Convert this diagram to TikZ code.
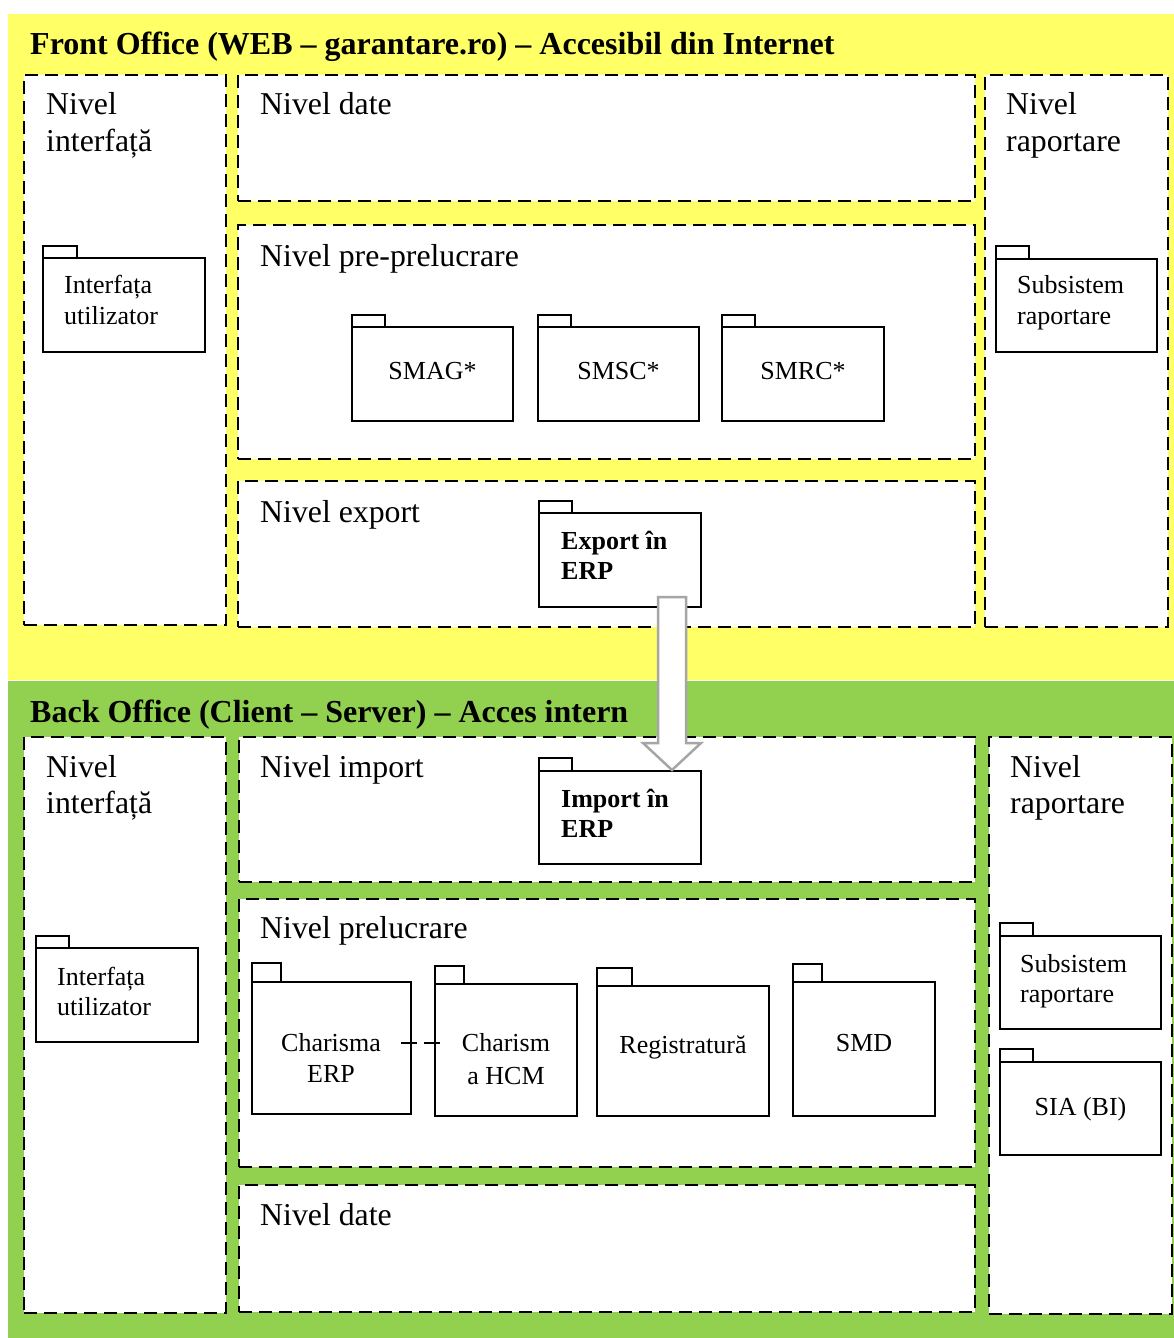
\documentclass[tikz,border=0pt]{standalone}
\usepackage{fontspec}
\setmainfont{Liberation Serif}
\usetikzlibrary{calc}
\definecolor{frontbg}{HTML}{FFFF66}
\definecolor{backbg}{HTML}{92D050}
\definecolor{flowgray}{HTML}{A6A6A6}

\tikzset{
  lvl/.style={draw, line width=2pt, dash pattern=on 13pt off 7pt, fill=white,
    inner sep=0pt, outer sep=0pt},
  pkg/.style={draw, line width=1.8pt, fill=white, inner sep=0pt, outer sep=0pt},
  pkgline/.style={draw, line width=1.8pt, fill=white},
  txt/.style={font=\fontsize{31.8}{37}\selectfont, inner sep=0pt, anchor=base west},
  sm/.style={font=\fontsize{26}{31}\selectfont, inner sep=0pt, anchor=base west},
  smc/.style={font=\fontsize{26}{31}\selectfont, inner sep=0pt, anchor=base},
  smb/.style={font=\bfseries\fontsize{26}{31}\selectfont, inner sep=0pt, anchor=base west},
  ttl/.style={font=\bfseries\fontsize{32}{37}\selectfont, inner sep=0pt, anchor=base west},
  flow/.style={draw=flowgray, line width=2.5pt, fill=white, line join=miter},
  link/.style={draw, line width=1.5pt, dash pattern=on 16pt off 7pt},
}

% level container: name, left, top, right, bottom
\newcommand\lvlbox[5]{\node[lvl, anchor=north west,
  minimum width={(#4-#2)*1pt}, minimum height={(#5-#3)*1pt}] (#1) at (#2,#3) {};}
% UML package: name, left, tab top, body top, right, bottom, tab right
\newcommand\pkgbox[7]{%
  \draw[pkgline] (#2,#3) rectangle (#7,#4);
  \node[pkg, anchor=north west,
    minimum width={(#5-#2)*1pt}, minimum height={(#6-#4)*1pt}] (#1) at (#2,#4) {};}

\begin{document}
\begin{tikzpicture}[x=1pt,y=-1pt]
\useasboundingbox (0,0) rectangle (1174,1338);

% tiers
\fill[frontbg] (8,14) rectangle (1174,680);
\fill[backbg] (8,681) rectangle (1174,1338);

% ---------- Front Office ----------
\node[ttl] (ttlfront) at (30,55) {Front Office (WEB – garantare.ro) – Accesibil din Internet};

\lvlbox{fint}{24}{75}{226}{625}
\lvlbox{fdate}{238}{75}{975}{201}
\lvlbox{fpre}{238}{225}{975}{459}
\lvlbox{fexp}{238}{481}{975}{627}
\lvlbox{frap}{985}{75}{1168}{627}

\node[txt] (fint1) at (46,114) {Nivel};
\node[txt] (fint2) at (46,151) {interfață};
\node[txt] (fdatel) at (260,114) {Nivel date};
\node[txt] (fprel) at (260,266) {Nivel pre-prelucrare};
\node[txt] (fexpl) at (260,522) {Nivel export};
\node[txt] (frap1) at (1006,114) {Nivel};
\node[txt] (frap2) at (1006,151) {raportare};

\pkgbox{fui}{43}{246}{258}{205}{352}{77}
\node[sm] (fui1) at (64,293) {Interfața};
\node[sm] (fui2) at (64,324) {utilizator};

\pkgbox{frs}{996}{246}{259}{1157}{352}{1029}
\node[sm] (frs1) at (1017,293) {Subsistem};
\node[sm] (frs2) at (1017,324) {raportare};

\pkgbox{smag}{352}{315}{327}{513}{421}{385}
\pkgbox{smsc}{538}{315}{327}{699}{421}{571}
\pkgbox{smrc}{722}{315}{327}{884}{421}{755}
\node[smc] (smagl) at (432.5,379) {SMAG*};
\node[smc] (smscl) at (618.5,379) {SMSC*};
\node[smc] (smrcl) at (803,379) {SMRC*};

\pkgbox{exp}{539}{501}{513}{701}{607}{572}
\node[smb] (exp1) at (561,549) {Export în};
\node[smb] (exp2) at (561,579) {ERP};

% ---------- Back Office ----------
\node[ttl] (ttlback) at (30,722) {Back Office (Client – Server) – Acces intern};

\lvlbox{bint}{24}{737}{226}{1313}
\lvlbox{bimp}{239}{737}{975}{882}
\lvlbox{bproc}{239}{899}{975}{1167}
\lvlbox{bdate}{239}{1185}{975}{1312}
\lvlbox{brap}{989}{737}{1172}{1314}

\node[txt] (bint1) at (46,777) {Nivel};
\node[txt] (bint2) at (46,813) {interfață};
\node[txt] (bimpl) at (260,777) {Nivel import};
\node[txt] (bprocl) at (260,938) {Nivel prelucrare};
\node[txt] (bdatel) at (260,1225) {Nivel date};
\node[txt] (brap1) at (1010,777) {Nivel};
\node[txt] (brap2) at (1010,813) {raportare};

\pkgbox{bui}{36}{936}{948}{198}{1042}{69}
\node[sm] (bui1) at (57,985) {Interfața};
\node[sm] (bui2) at (57,1015) {utilizator};

\pkgbox{imp}{539}{758}{771}{701}{864}{572}
\node[smb] (imp1) at (561,807) {Import în};
\node[smb] (imp2) at (561,837) {ERP};

\pkgbox{cerp}{252}{963}{982}{411}{1114}{281}
\node[smc] (cerp1) at (331,1051) {Charisma};
\node[smc] (cerp2) at (331,1082) {ERP};

\pkgbox{chcm}{435}{966}{984}{577}{1116}{464}
\node[smc] (chcm1) at (506,1051) {Charism};
\node[smc] (chcm2) at (506,1084) {a HCM};

\pkgbox{reg}{597}{968}{986}{769}{1116}{632}
\node[smc] (regl) at (683,1053) {Registratură};

\pkgbox{smd}{793}{964}{982}{935}{1116}{822}
\node[smc] (smdl) at (864,1051) {SMD};

\pkgbox{brs}{1000}{923}{936}{1161}{1029}{1033}
\node[sm] (brs1) at (1020,972) {Subsistem};
\node[sm] (brs2) at (1020,1002) {raportare};

\pkgbox{sia}{1000}{1049}{1062}{1161}{1155}{1033}
\node[smc] (sial) at (1080.5,1115) {SIA (BI)};

% dependency between the two Charisma packages
\draw[link] ($(cerp.east)+(-10,-5)$) -- ($(chcm.west)+(10,-7)$);

% export -> import transfer arrow
\coordinate (a0) at ($(exp.south east)+(-29,-10)$);
\coordinate (tip) at ($(imp.north east)+(-29,-1)$);
\draw[flow] ($(a0)+(-14,0)$) -- ($(tip)+(-14,-27)$) -- ($(tip)+(-29,-27)$)
  -- (tip) -- ($(tip)+(29,-27)$) -- ($(tip)+(14,-27)$) -- ($(a0)+(14,0)$) -- cycle;
\end{tikzpicture}
\end{document}
